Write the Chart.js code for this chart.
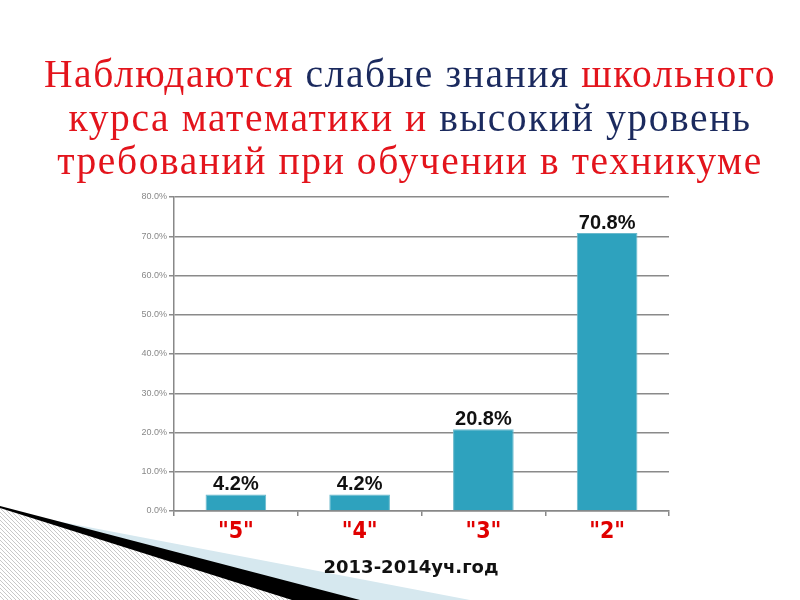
<!DOCTYPE html>
<html>
<head>
<meta charset="utf-8">
<script src="https://cdn.jsdelivr.net/npm/chart.js@4"></script>
<style>
  body { margin: 0; background: #fff; }
  #wrap { position: relative; width: 800px; height: 600px; overflow: hidden; }
  #myChart { position: absolute; left: 0; top: 0; }
  #title {
    position: absolute; left: 10px; top: 53px; width: 800px;
    text-align: center; font-family: "Liberation Serif", serif;
    font-size: 39.5px; line-height: 43.5px; letter-spacing: 1.6px; color: #e3141c;
  }
  #title .blue { color: #1b2a5e; }
  #year {
    position: absolute; left: 11px; top: 556px; width: 800px;
    text-align: center; font-family: "DejaVu Sans", sans-serif;
    font-weight: bold; font-size: 18px; color: #111;
  }
</style>
</head>
<body>
<div id="wrap">
  <canvas id="myChart" width="800" height="600"></canvas>
  <div id="title">Наблюдаются <span class="blue">слабые знания</span> школьного<br>курса математики и <span class="blue">высокий уровень</span><br>требований при обучении в техникуме</div>
  <div id="year">2013-2014уч.год</div>
</div>
<script>
// values
var grades = ['"5"', '"4"', '"3"', '"2"'];
var shares = [4.2, 4.2, 20.8, 70.8];
var yMin = 0, yMax = 80, yStep = 10;

// slide decoration in the bottom left corner
var cornerDecor = {
  id: 'cornerDecor',
  beforeDraw: function (chart) {
    var ctx = chart.ctx;
    ctx.save();
    // hatched grey area
    var pc = document.createElement('canvas');
    pc.width = 4; pc.height = 4;
    var p = pc.getContext('2d');
    p.fillStyle = '#fff';
    p.fillRect(0, 0, 4, 4);
    p.strokeStyle = '#c8c8c8';
    p.lineWidth = 1;
    p.beginPath(); p.moveTo(0, 0); p.lineTo(4, 4); p.stroke();
    ctx.fillStyle = ctx.createPattern(pc, 'repeat');
    ctx.beginPath();
    ctx.moveTo(0, 508); ctx.lineTo(296, 600); ctx.lineTo(0, 600); ctx.closePath();
    ctx.fill();
    // light blue band
    ctx.fillStyle = '#d6e8ef';
    ctx.beginPath();
    ctx.moveTo(46, 519); ctx.lineTo(470, 600); ctx.lineTo(357, 600); ctx.closePath();
    ctx.fill();
    // black wedge
    ctx.fillStyle = '#000';
    ctx.beginPath();
    ctx.moveTo(0, 506); ctx.lineTo(360, 600); ctx.lineTo(292, 600); ctx.lineTo(0, 508); ctx.closePath();
    ctx.fill();
    ctx.restore();
  }
};

// percentage above each bar
var barValues = {
  id: 'barValues',
  afterDatasetsDraw: function (chart) {
    var ctx = chart.ctx;
    var meta = chart.getDatasetMeta(0);
    ctx.save();
    ctx.font = '600 20px "Liberation Sans", Arial, sans-serif';
    ctx.fillStyle = '#111';
    ctx.textAlign = 'center';
    ctx.textBaseline = 'bottom';
    meta.data.forEach(function (bar, i) {
      ctx.fillText(shares[i].toFixed(1) + '%', bar.x, bar.y);
    });
    ctx.restore();
  }
};

var canvas = document.getElementById('myChart');
var myChart = new Chart(canvas, {
  type: 'bar',
  data: {
    labels: grades,
    datasets: [{
      data: shares,
      backgroundColor: '#2ea2be',
      borderColor: '#6ab9cc',
      borderWidth: 1,
      categoryPercentage: 1,
      barPercentage: 0.49
    }]
  },
  options: {
    responsive: false,
    animation: false,
    layout: { padding: { left: 0, right: 131, top: 197, bottom: 0 } },
    plugins: {
      legend: { display: false },
      tooltip: { enabled: false }
    },
    scales: {
      x: {
        grid: { display: true, drawOnChartArea: false, offset: true, tickLength: 5, color: '#888', lineWidth: 1.5 },
        border: { color: '#888', width: 1.5 },
        ticks: {
          color: '#e00000',
          padding: 2,
          font: { family: '"DejaVu Sans Condensed", "Liberation Sans Narrow", Arial', weight: 'bold', size: 23 }
        },
        afterFit: function (scale) { scale.height = 89; }
      },
      y: {
        min: yMin,
        max: yMax,
        grid: { color: '#8a8a8a', lineWidth: 1.5, tickLength: 5 },
        border: { color: '#888', width: 1.5 },
        ticks: {
          stepSize: yStep,
          color: '#888',
          padding: 2,
          font: { family: '"Liberation Sans", Arial', size: 9 },
          callback: function (v) { return v.toFixed(1) + '%'; }
        },
        afterFit: function (scale) { scale.width = 174; }
      }
    }
  },
  plugins: [cornerDecor, barValues]
});
</script>
</body>
</html>
